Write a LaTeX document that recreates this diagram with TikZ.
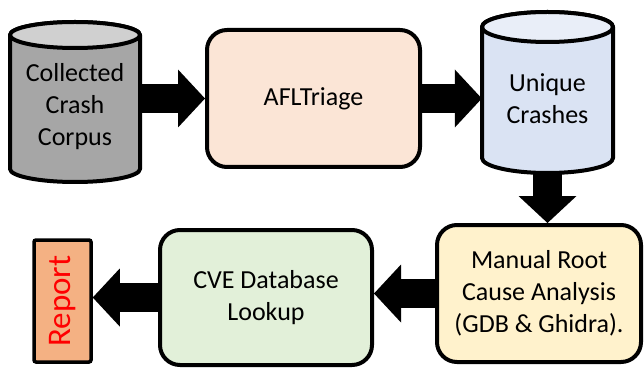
\documentclass[tikz,border=0pt]{standalone}
\usepackage{fontspec}
\setmainfont{Carlito}
\usetikzlibrary{arrows.meta,calc}
\definecolor{cylgray}{HTML}{A6A6A6}
\definecolor{cylgraytop}{HTML}{D0D0D0}
\definecolor{cylblue}{HTML}{DAE3F3}
\definecolor{cylbluetop}{HTML}{E9EEF8}
\definecolor{aflfill}{HTML}{FBE5D6}
\definecolor{manfill}{HTML}{FFF2CC}
\definecolor{cvefill}{HTML}{E2F0D9}
\definecolor{repfill}{HTML}{F4B183}
\definecolor{reptext}{HTML}{FF0000}
\begin{document}
\begin{tikzpicture}[x=1pt,y=1pt,
  txt/.style={font=\fontsize{26}{32}\selectfont, align=center, inner sep=0pt},
  procbox/.style={txt, draw=black, line width=4pt, rounded corners=20pt},
  cylbody/.style={draw=black, line width=4pt, line join=round},
  blockarrow/.style={draw=black, line width=29pt, -{Triangle[length=27pt,width=58pt,line width=0pt]}},
]
\useasboundingbox (0,0) rectangle (644,367);
% cylinder 1
\path[cylbody, fill=cylgray] (10,332) -- (10,198) arc[start angle=180, end angle=360, x radius=65, y radius=13] -- (140,332) arc[start angle=0, end angle=180, x radius=65, y radius=13] -- cycle;
\path[cylbody, fill=cylgraytop] (75,332) ellipse[x radius=65, y radius=13];
\node[txt, minimum width=130, minimum height=150] (c1) at (75,260) {Collected\\Crash\\Corpus};
% cylinder 2
\path[cylbody, fill=cylblue] (482,340) -- (482,209) arc[start angle=180, end angle=360, x radius=65.5, y radius=15] -- (613,340) arc[start angle=0, end angle=180, x radius=65.5, y radius=15] -- cycle;
\path[cylbody, fill=cylbluetop] (547.5,340) ellipse[x radius=65.5, y radius=15];
\node[txt, minimum width=131, minimum height=148] (c2) at (547.5,268) {Unique\\Crashes};
% boxes
\node[procbox, fill=aflfill, minimum width=213, minimum height=137] (afl) at (313.5,268.5) {AFLTriage};
\node[procbox, fill=manfill, minimum width=204, minimum height=137] (man) at (539,73.5) {Manual Root\\Cause Analysis\\(GDB \& Ghidra).};
\node[procbox, fill=cvefill, minimum width=212, minimum height=135] (cve) at (266,69.5) {CVE Database\\Lookup};
\node[txt, font=\fontsize{33}{40}\selectfont, draw=black, line width=3.5pt, rounded corners=2pt, fill=repfill, text=reptext, rotate=90, minimum width=122, minimum height=57] (rep) at (62.5,66) {Report};
% arrows
\draw[blockarrow] (c1.east |- afl.west) -- (afl.west);
\draw[blockarrow] (afl.east) -- (afl.east -| c2.west);
\draw[blockarrow] (c2.south) -- (c2.south |- man.north);
\draw[blockarrow] (man.west) -- (man.west -| cve.east);
\draw[blockarrow] (cve.west) -- (cve.west -| rep.south);
\end{tikzpicture}
\end{document}
